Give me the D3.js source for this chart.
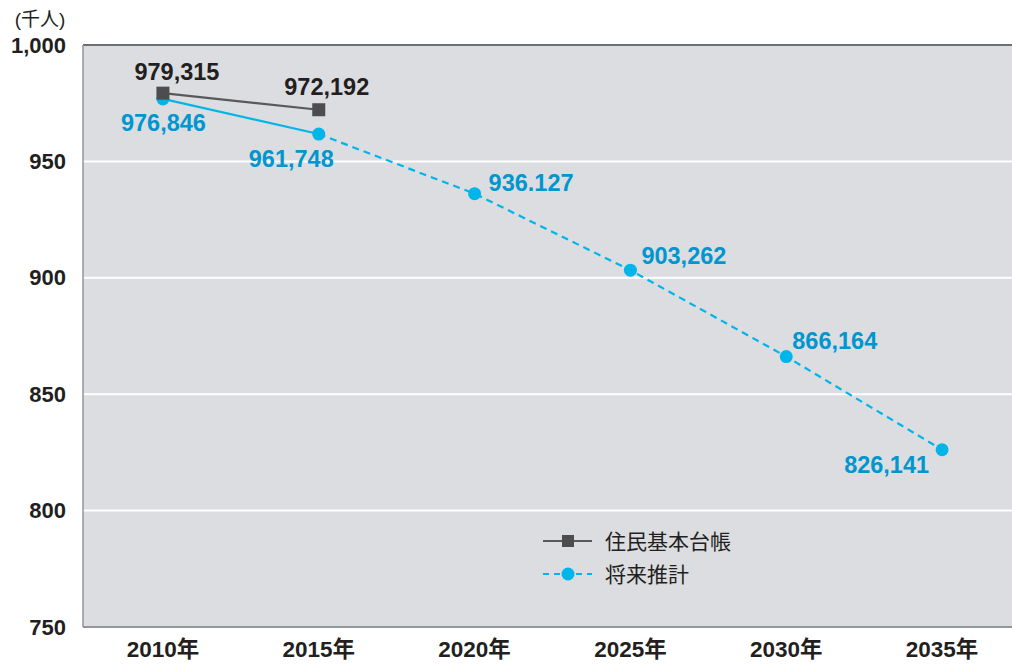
<!DOCTYPE html>
<html>
<head>
<meta charset="utf-8">
<script src="https://d3js.org/d3.v7.min.js"></script>
<style>
  body { margin: 0; background: #fff; }
  text { font-family: "Liberation Sans", Arial, "Noto Sans CJK JP", sans-serif; }
  .cjk { font-family: "Liberation Sans", "Noto Sans CJK JP", sans-serif; }
</style>
</head>
<body>
<div id="chart"></div>
<script>
// categories
const years = ["2010", "2015", "2020", "2025", "2030", "2035"];
const yearLabels = ["2010年", "2015年", "2020年", "2025年", "2030年", "2035年"];

// series values (千人)
const registryYears = ["2010", "2015"];
const registryValues = [979.315, 972.192];
const registryLabels = ["979,315", "972,192"];

const projectionValues = [976.846, 961.748, 936.127, 903.262, 866.164, 826.141];
const projectionLabels = ["976,846", "961,748", "936.127", "903,262", "866,164", "826,141"];

const yTicks = [750, 800, 850, 900, 950, 1000];

const width = 1012, height = 669;
const margin = { top: 45, left: 83, bottom: 42 };
const plotW = 935;
const plotH = height - margin.top - margin.bottom;

const svg = d3.select("#chart").append("svg")
  .attr("width", width).attr("height", height);

const x = d3.scaleBand().domain(years).range([margin.left + 2, margin.left + 2 + plotW]);
const cx = (d) => x(d) + x.bandwidth() / 2;
const y = d3.scaleLinear().domain([750, 1000]).range([margin.top + plotH, margin.top]);

// plot background
svg.append("rect")
  .attr("x", margin.left).attr("y", margin.top)
  .attr("width", plotW + 10).attr("height", plotH)
  .attr("fill", "#dcdde0");

// grid lines
svg.append("g")
  .selectAll("line")
  .data(yTicks.filter((d) => d > 750 && d < 1000))
  .join("line")
  .attr("x1", margin.left).attr("x2", width)
  .attr("y1", (d) => y(d)).attr("y2", (d) => y(d))
  .attr("stroke", "#fff").attr("stroke-width", 2);

// frame
svg.append("line")
  .attr("x1", margin.left).attr("x2", width)
  .attr("y1", y(1000)).attr("y2", y(1000))
  .attr("stroke", "#6d6e71").attr("stroke-width", 2);
svg.append("line")
  .attr("x1", margin.left).attr("x2", width)
  .attr("y1", y(750)).attr("y2", y(750))
  .attr("stroke", "#939598").attr("stroke-width", 2);
svg.append("line")
  .attr("x1", margin.left).attr("x2", margin.left)
  .attr("y1", y(1000)).attr("y2", y(750))
  .attr("stroke", "#939598").attr("stroke-width", 1.5);

// y axis
const yAxis = d3.axisLeft(y).tickValues(yTicks).tickSize(0).tickPadding(17)
  .tickFormat(d3.format(","));
const yAxisG = svg.append("g")
  .attr("transform", `translate(${margin.left},0)`)
  .call(yAxis);
yAxisG.select(".domain").remove();
yAxisG.selectAll("text")
  .attr("fill", "#231f20")
  .style("font-size", "22px")
  .style("font-weight", "bold");

svg.append("text")
  .attr("class", "cjk")
  .attr("x", 40).attr("y", 26)
  .attr("text-anchor", "middle")
  .attr("fill", "#231f20")
  .style("font-size", "19px")
  .text("(千人)");

// x axis
const xAxis = d3.axisBottom(x).tickSize(0).tickPadding(14)
  .tickFormat((d, i) => yearLabels[i]);
const xAxisG = svg.append("g")
  .attr("transform", `translate(0,${margin.top + plotH})`)
  .call(xAxis);
xAxisG.select(".domain").remove();
xAxisG.selectAll("text")
  .attr("class", "cjk")
  .attr("fill", "#231f20")
  .style("font-size", "22.5px")
  .style("font-weight", "bold");

const line = d3.line().x((d) => cx(d[0])).y((d) => y(d[1]));

// projection series
const projPts = years.map((d, i) => [d, projectionValues[i]]);
svg.append("path")
  .datum(projPts.slice(0, 2))
  .attr("d", line)
  .attr("fill", "none")
  .attr("stroke", "#00b5ea").attr("stroke-width", 2.2);
svg.append("path")
  .datum(projPts.slice(1))
  .attr("d", line)
  .attr("fill", "none")
  .attr("stroke", "#00b5ea").attr("stroke-width", 2.2)
  .attr("stroke-dasharray", "7,5");

// registry series
const regPts = registryYears.map((d, i) => [d, registryValues[i]]);
svg.append("path")
  .datum(regPts)
  .attr("d", line)
  .attr("fill", "none")
  .attr("stroke", "#58595b").attr("stroke-width", 2.2);

svg.selectAll(".proj-dot")
  .data(projPts)
  .join("circle")
  .attr("class", "proj-dot")
  .attr("cx", (d) => cx(d[0])).attr("cy", (d) => y(d[1]))
  .attr("r", 6.5)
  .attr("fill", "#00b5ea");

svg.selectAll(".reg-dot")
  .data(regPts)
  .join("rect")
  .attr("class", "reg-dot")
  .attr("x", (d) => cx(d[0]) - 6.5).attr("y", (d) => y(d[1]) - 6.5)
  .attr("width", 13).attr("height", 13)
  .attr("fill", "#4d4d4f");

// data labels
const regOffsets = [[14, -13], [8, -15]];
svg.selectAll(".reg-label")
  .data(regPts)
  .join("text")
  .attr("class", "reg-label")
  .attr("x", (d, i) => cx(d[0]) + regOffsets[i][0])
  .attr("y", (d, i) => y(d[1]) + regOffsets[i][1])
  .attr("text-anchor", "middle")
  .attr("fill", "#231f20")
  .style("font-size", "23.5px")
  .style("font-weight", "bold")
  .text((d, i) => registryLabels[i]);

const projOffsets = [[0, 32, "end", 43], [0, 33, "end", 15], [14, -3, "start"], [11, -6, "start"], [6, -8, "start"], [-13, 23, "end"]];
svg.selectAll(".proj-label")
  .data(projPts)
  .join("text")
  .attr("class", "proj-label")
  .attr("x", (d, i) => cx(d[0]) + projOffsets[i][0] + (projOffsets[i][3] || 0))
  .attr("y", (d, i) => y(d[1]) + projOffsets[i][1])
  .attr("text-anchor", (d, i) => projOffsets[i][2])
  .attr("fill", "#0096cf")
  .style("font-size", "23.5px")
  .style("font-weight", "bold")
  .text((d, i) => projectionLabels[i]);

// legend
const legend = svg.append("g").attr("transform", "translate(543,541)");
legend.append("line")
  .attr("x1", 0).attr("x2", 49).attr("y1", 0).attr("y2", 0)
  .attr("stroke", "#58595b").attr("stroke-width", 2.2);
legend.append("rect")
  .attr("x", 19).attr("y", -6).attr("width", 12).attr("height", 12)
  .attr("fill", "#4d4d4f");
legend.append("text")
  .attr("class", "cjk")
  .attr("x", 62).attr("y", 8)
  .attr("fill", "#231f20")
  .style("font-size", "21px")
  .text("住民基本台帳");
legend.append("line")
  .attr("x1", 0).attr("x2", 49).attr("y1", 33).attr("y2", 33)
  .attr("stroke", "#00b5ea").attr("stroke-width", 2.2)
  .attr("stroke-dasharray", "6,5");
legend.append("circle")
  .attr("cx", 25).attr("cy", 33).attr("r", 6.5)
  .attr("fill", "#00b5ea");
legend.append("text")
  .attr("class", "cjk")
  .attr("x", 62).attr("y", 41)
  .attr("fill", "#231f20")
  .style("font-size", "21px")
  .text("将来推計");
</script>
</body>
</html>
